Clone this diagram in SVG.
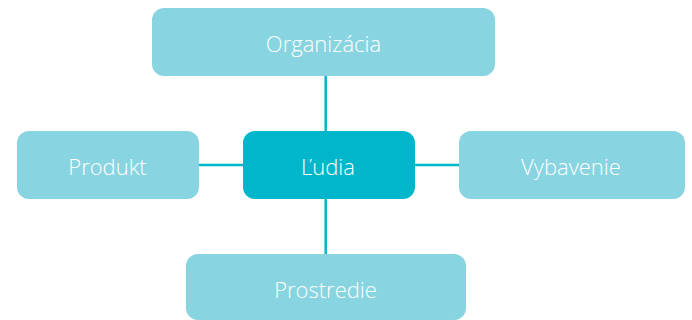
<svg xmlns="http://www.w3.org/2000/svg" width="692" height="320" viewBox="0 0 692 320">
<style>
.box{fill:#88D4E0}
.main{fill:#00B6CB}
.lbl{font-family:"Open Sans","Liberation Sans",sans-serif;font-size:22px;fill:#FFFFFF;text-anchor:middle;font-weight:300}
.conn{stroke:#00B6CB;stroke-width:2.5;fill:none}
</style>
<rect width="692" height="320" fill="#FFFFFF"/>
<g id="connectors">
<line class="conn" x1="325.7" y1="76" x2="325.7" y2="131"/>
<line class="conn" x1="325.7" y1="199" x2="325.7" y2="254"/>
<line class="conn" x1="199" y1="165" x2="243" y2="165"/>
<line class="conn" x1="415" y1="165" x2="459" y2="165"/>
</g>
<g id="organizacia">
<rect class="box" x="152" y="8" width="343" height="68" rx="12"/>
<text class="lbl" x="323.5" y="51.5">Organizácia</text>
</g>
<g id="ludia">
<rect class="main" x="243" y="131" width="172" height="68" rx="12"/>
<text class="lbl" x="328" y="174.5">Ľudia</text>
</g>
<g id="produkt">
<rect class="box" x="17" y="131" width="182" height="68" rx="12"/>
<text class="lbl" x="107.5" y="174.5">Produkt</text>
</g>
<g id="vybavenie">
<rect class="box" x="459" y="131" width="226" height="68" rx="12"/>
<text class="lbl" x="571" y="174.5">Vybavenie</text>
</g>
<g id="prostredie">
<rect class="box" x="186" y="254" width="280" height="66" rx="12"/>
<text class="lbl" x="325.5" y="297.5">Prostredie</text>
</g>
</svg>
